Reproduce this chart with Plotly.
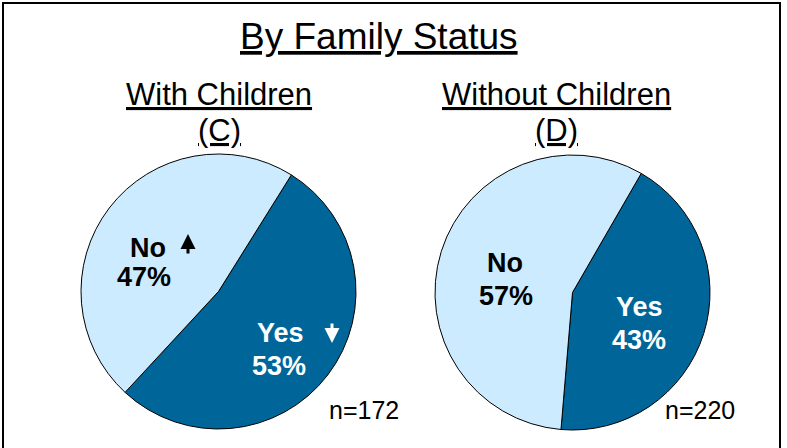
import plotly.graph_objects as go

W, H = 787, 448

categories = ["Yes", "No"]
with_children = [53, 47]
without_children = [43, 57]
colors = ["#006699", "#CCEBFF"]
n_labels = ["n=172", "n=220"]
title = "By Family Status"

def px_dom(x0, x1, y0, y1):
    return dict(x=[x0 / W, x1 / W], y=[1 - y1 / H, 1 - y0 / H])

fig = go.Figure()
fig.add_trace(go.Pie(
    labels=categories, values=with_children, sort=False, direction="clockwise",
    rotation=32, marker=dict(colors=colors, line=dict(color="black", width=1)),
    textinfo="none", hoverinfo="label+percent", showlegend=False,
    domain=px_dom(81, 356, 154, 429)))
fig.add_trace(go.Pie(
    labels=categories, values=without_children, sort=False, direction="clockwise",
    rotation=30, marker=dict(colors=colors, line=dict(color="black", width=1)),
    textinfo="none", hoverinfo="label+percent", showlegend=False,
    domain=px_dom(435, 710, 155, 430)))

F = "Arial, Liberation Sans, sans-serif"
ann = []
def txt(x, y, t, size, color="black", bold=False):
    if bold:
        t = "<b>" + t + "</b>"
    ann.append(dict(x=x / W, y=1 - y / H, xref="paper", yref="paper", text=t,
                    showarrow=False, font=dict(family=F, size=size, color=color),
                    xanchor="center", yanchor="middle"))

txt(379, 37, "<u>" + title + "</u>", 37)
txt(219, 95, "<u>With Children</u>", 31)
txt(219, 130, "<u>(C)</u>", 31)
txt(556, 95, "<u>Without Children</u>", 31)
txt(556, 130, "<u>(D)</u>", 31)

txt(148, 248, categories[1], 27, bold=True)
txt(144, 277, str(with_children[1]) + "%", 27, bold=True)
txt(280, 333, categories[0], 27, color="white", bold=True)
txt(279, 366, str(with_children[0]) + "%", 27, color="white", bold=True)
txt(505, 263, categories[1], 27, bold=True)
txt(506, 296, str(without_children[1]) + "%", 27, bold=True)
txt(639, 307, categories[0], 27, color="white", bold=True)
txt(639, 340, str(without_children[0]) + "%", 27, color="white", bold=True)

txt(364, 410, n_labels[0], 25)
txt(700, 410, n_labels[1], 25)

# trend arrows (head position, tail offset in pixels)
for hx, hy, dy, c in [(188, 234, 21, "black"), (332, 343, -21, "white")]:
    ann.append(dict(x=hx / W, y=1 - hy / H, ax=0, ay=dy,
                    xref="paper", yref="paper", axref="pixel", ayref="pixel",
                    text="", showarrow=True, arrowhead=2, arrowsize=1,
                    arrowwidth=3, arrowcolor=c))

fig.update_layout(
    width=W, height=H, margin=dict(l=0, r=0, t=0, b=0),
    paper_bgcolor="white", plot_bgcolor="white",
    annotations=ann,
    shapes=[dict(type="rect", xref="paper", yref="paper",
                 x0=3 / W, x1=780 / W, y0=-0.05, y1=1 - 3 / H,
                 line=dict(color="black", width=2))],
)
fig.write_html("out.html", config={"displayModeBar": False},
               post_script="document.body.style.margin='0px';")
